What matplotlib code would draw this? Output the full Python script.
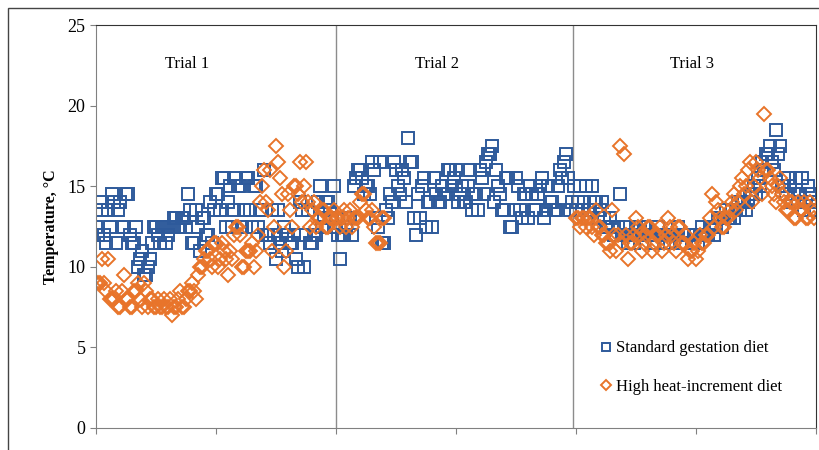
import numpy as np
import matplotlib
matplotlib.use("Agg")
import matplotlib.pyplot as plt
from matplotlib.patches import Rectangle

plt.rcParams['font.family'] = ['Liberation Serif', 'DejaVu Serif']

# temperatures (deg C); "a" readings at even time steps, "b" readings at odd ones
std_t1a = [12.5, 14, 12, 13.5, 14.5, 11.5, 14, 12.5, 14.5, 11.5,
           12.5, 10.5, 9.5, 10, 11.5, 12.5, 11.5, 12.5, 12, 12.5,
           13, 12.5, 13, 14.5, 11.5, 13.5, 11, 13, 12, 11.5,
           14.5, 13.5, 15.5, 14, 12.5, 15.5, 15, 13.5, 15.5, 12.5,
           15, 13.5, 16, 12, 13.5, 10.5, 11.5, 12.5, 12, 11.5,
           10.5, 14, 10, 13.5, 11.5, 12, 15, 13, 14, 13]
std_t1b = [12, 13.5, 11.5, 12.5, 14, 13.5, 12.5, 14.5, 12, 11.5,
           10, 11, 9.5, 10.5, 12.5, 12, 12.5, 11.5, 12.5, 13,
           12.5, 13, 12.5, 13.5, 11.5, 12.5, 13, 12, 14, 13.5,
           14.5, 15.5, 12.5, 15, 13.5, 15, 12.5, 15.5, 13.5, 15,
           12.5, 13.5, 12, 11.5, 12, 13.5, 11, 12, 11.5, 12,
           10, 13.5, 12, 11.5, 12, 14, 12.5, 14, 13.5, 15]
std_t2a = [12.5, 10.5, 12, 13, 12, 15.5, 16, 14.5, 15, 16.5,
           13, 16.5, 11.5, 13, 14, 16, 14.5, 15.5, 18, 16.5,
           12, 13, 15.5, 14, 12.5, 14.5, 14, 14.5, 16, 15,
           16, 14.5, 14, 15, 13.5, 14.5, 16, 14.5, 17, 17.5,
           16, 14.5, 13.5, 15.5, 12.5, 15.5, 13.5, 14.5, 13, 14.5,
           13.5, 15, 13, 15, 14, 13.5, 16, 16.5, 15.5, 14]
std_t2b = [12, 12, 12.5, 13, 15, 16, 15.5, 15, 14.5, 16,
           12.5, 11.5, 13.5, 14.5, 16.5, 15, 16, 14, 16.5, 13,
           14.5, 15, 12.5, 14, 15.5, 14, 15, 14.5, 16, 15.5,
           14, 15, 14, 16, 14.5, 13.5, 15.5, 16.5, 17, 14,
           15, 13.5, 15.5, 12.5, 13.5, 15, 13, 14.5, 15, 13.5,
           14.5, 15.5, 13.5, 14, 13.5, 15, 15.5, 17, 13.5, 15]
std_t3a = [13.5, 15, 14, 13, 15, 14, 13.5, 13, 12.5, 12.5,
           12, 14.5, 12, 11.5, 12, 12.5, 12.5, 12.5, 12, 12,
           12, 12, 11.5, 12, 12, 12, 11.5, 12, 12, 11.5,
           12, 12, 12, 12, 12.5, 12.5, 13, 13, 13, 13.5,
           13.5, 13.5, 14, 14, 14.5, 14.5, 15, 16, 17, 16.5,
           18.5, 17.5, 15, 15.5, 14, 15.5, 14.5, 13.5, 15, 14]
std_t3b = [14, 13.5, 15, 13.5, 14, 13, 14, 12.5, 13, 12,
           12.5, 12, 12.5, 12, 11.5, 12, 12, 12.5, 12, 11.5,
           12.5, 12, 12, 11.5, 12, 12.5, 12, 11.5, 12, 12,
           11.5, 12.5, 12, 12.5, 12, 13, 12.5, 13.5, 13, 13,
           14, 14, 13.5, 14.5, 15, 15.5, 16.5, 17, 17.5, 16,
           17, 15, 14.5, 15, 14.5, 14, 15.5, 14, 14.5, 13.5]

high_t1a = [9, 9, 9, 10.5, 8, 8.5, 7.5, 9.5, 8, 7.5,
            8.5, 8, 9, 7.5, 8, 7.5, 7.5, 8, 7.5, 7,
            7.5, 8.5, 7.5, 8.5, 9, 8, 10, 10.5, 11, 10,
            11.5, 10.5, 11, 9.5, 10.5, 12.5, 12, 10, 11, 11.5,
            11, 14, 16, 13.5, 11, 17.5, 15.5, 10, 14.5, 12.5,
            15, 16.5, 15, 14, 13.5, 12.5, 13, 13.5, 12.5, 13]
high_t1b = [9, 10.5, 8.5, 8, 8, 7.5, 8.5, 8, 7.5, 8.5,
            9, 7.5, 8.5, 8, 7.5, 8, 7.5, 7.5, 8, 7.5,
            8, 7.5, 8, 8.5, 8.5, 9.5, 10, 11, 10.5, 11.5,
            10, 11.5, 10.5, 11, 12, 12.5, 10, 11, 11, 10,
            12, 15, 14, 16, 12.5, 16.5, 14.5, 11, 13.5, 15,
            14.5, 14, 16.5, 12.5, 14, 13, 13.5, 12.5, 13, 13.5]
high_t2a = [13, 12.5, 13.5, 13, 12.5, 13, 14, 14.5, 13, 13.5,
            11.5, 11.5, 13]
high_t2b = [13, 13, 12.5, 13.5, 13, 13, 14.5, 13.5, 13, 12.5,
            11.5, 13]
high_t3a = [13, 12.5, 13, 13, 12.5, 13.5, 12.5, 12, 11.5, 13.5,
            11, 17.5, 17, 10.5, 11.5, 13, 12, 11.5, 12.5, 11,
            12, 12.5, 11.5, 13, 12, 11, 12.5, 11.5, 10.5, 11,
            10.5, 12, 11.5, 12, 14.5, 14, 13, 12.5, 13, 14,
            13.5, 15, 14.5, 16, 14, 16.5, 15.5, 19.5, 16, 15,
            14, 15.5, 14, 13.5, 14, 13, 13.5, 14, 13, 13.5]
high_t3b = [13, 13, 12.5, 13, 12, 12.5, 12, 11.5, 11, 12,
            12, 11.5, 12, 11.5, 12, 12.5, 11, 12, 12.5, 11.5,
            12, 11, 12, 12.5, 11.5, 12.5, 11.5, 12, 11, 11.5,
            11, 11.5, 12, 13, 12.5, 13.5, 12.5, 13, 13.5, 14.5,
            14, 15.5, 15, 16.5, 15, 16, 14.5, 16, 15.5, 14.5,
            15, 14.5, 13.5, 14, 13, 14, 13.5, 13, 14, 13]

trial_starts = [0, 120, 240]
trial_names = ["Trial 1", "Trial 2", "Trial 3"]
trial_label_x = [45.5, 170.5, 298]
separators = [120, 238.5]

blue = "#2E5A9B"
orange = "#E8742A"


def series(pairs):
    xs, ys = [], []
    for (a, b), start in zip(pairs, trial_starts):
        xs.append(start + 2 * np.arange(len(a)))
        ys.append(a)
        xs.append(start + 1 + 2 * np.arange(len(b)))
        ys.append(b)
    return np.concatenate(xs), np.concatenate(ys)


std_x, std_y = series([(std_t1a, std_t1b), (std_t2a, std_t2b), (std_t3a, std_t3b)])
high_x, high_y = series([(high_t1a, high_t1b), (high_t2a, high_t2b), (high_t3a, high_t3b)])

fig = plt.figure(figsize=(8.2, 4.5), dpi=100)
fig.patches.append(Rectangle((8 / 820, -0.1), 1.2, 1.1 - 8 / 450,
                             transform=fig.transFigure, fill=False,
                             edgecolor="#444444", linewidth=1.0))
ax = fig.add_axes([96 / 820, 22 / 450, 720 / 820, 403 / 450])

ax.plot(std_x, std_y, linestyle="none", marker="s", markersize=8,
        markerfacecolor="none", markeredgecolor=blue, markeredgewidth=1.4,
        label="Standard gestation diet")
ax.plot(high_x, high_y, linestyle="none", marker="D", markersize=7.5,
        markerfacecolor="none", markeredgecolor=orange, markeredgewidth=1.4,
        label="High heat-increment diet")

for xb in separators:
    ax.axvline(xb, color="#8c8c8c", linewidth=1.0, zorder=0)

for lx, name in zip(trial_label_x, trial_names):
    ax.text(lx, 22.6, name, ha="center", va="center", fontsize=12)

ax.set_xlim(0, 360)
ax.set_ylim(0, 25)
ax.set_xticks(np.arange(0, 361, 60))
ax.set_xticklabels([])
ax.set_yticks(np.arange(0, 26, 5))
ax.tick_params(axis="y", labelsize=13, direction="out", length=4, color="#808080")
ax.tick_params(axis="x", direction="out", length=4, color="#808080")
for side in ["left", "bottom"]:
    ax.spines[side].set_color("#808080")
for side in ["top", "right"]:
    ax.spines[side].set_color("#333333")
ax.set_ylabel("Temperature, °C", fontsize=11.5, fontweight="bold", labelpad=6)

ax.legend(loc="lower left", bbox_to_anchor=(0.68, 0.045), frameon=False,
          fontsize=12, labelspacing=1.35, handlelength=0.6,
          handletextpad=0.3, markerscale=0.7)

fig.savefig("out.png", dpi=100)
